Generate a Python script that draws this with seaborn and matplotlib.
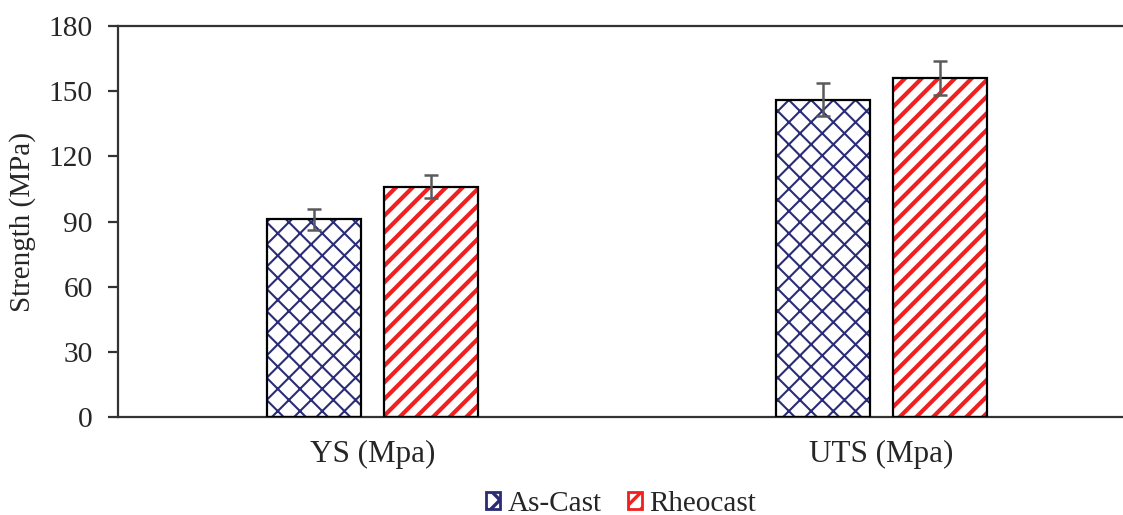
import matplotlib
matplotlib.use("Agg")
import matplotlib.pyplot as plt
import seaborn as sns
import pandas as pd
from matplotlib.patches import Rectangle, Patch

# values
categories = ["YS (Mpa)", "UTS (Mpa)"]
groups = ["As-Cast", "Rheocast"]
as_cast = [91, 146]
rheocast = [106, 156]
as_cast_err = [4.8, 7.6]
rheocast_err = [5.3, 7.8]
yticks = [0, 30, 60, 90, 120, 150, 180]

hatch_colors = {"As-Cast": "#2a2c78", "Rheocast": "#f02020"}
hatches = {"As-Cast": "xxx", "Rheocast": "////"}
hatch_lw = {"As-Cast": 0.75, "Rheocast": 1.5}
errs = {"As-Cast": as_cast_err, "Rheocast": rheocast_err}

df = pd.DataFrame({
    "cat": categories * 2,
    "group": [groups[0]] * 2 + [groups[1]] * 2,
    "value": as_cast + rheocast,
})

sns.set_style("white")
plt.rcParams["font.family"] = ["Liberation Serif", "DejaVu Serif"]
plt.rcParams["hatch.linewidth"] = 1.2

fig = plt.figure(figsize=(11.23 / 2, 5.15 / 2), dpi=200)
ax = fig.add_axes([0.105, 0.19, 1018 / 1123, 0.7595])

sns.barplot(data=df, x="cat", y="value", hue="group", order=categories,
            hue_order=groups, palette=["white", "white"], width=0.46, gap=0.2,
            errorbar=None, legend=False, linewidth=0, ax=ax)

for cont, g in zip(ax.containers, groups):
    xs, hs = [], []
    for bar in cont:
        bar.set_facecolor("white")
        bar.set_edgecolor(hatch_colors[g])
        bar.set_hatch(hatches[g])
        bar.set_linewidth(0)
        if hasattr(bar, "set_hatch_linewidth"):
            bar.set_hatch_linewidth(hatch_lw[g])
        # black outline on top of the hatched fill
        ax.add_patch(Rectangle(bar.get_xy(), bar.get_width(), bar.get_height(),
                               fill=False, edgecolor="black", linewidth=0.8, zorder=3))
        xs.append(bar.get_x() + bar.get_width() / 2)
        hs.append(bar.get_height())
    ax.errorbar(xs, hs, yerr=errs[g], fmt="none", ecolor="#5a5a5a",
                elinewidth=0.9, capsize=2.4, capthick=0.9, zorder=4)

ax.set_xlim(-0.5, 1.5)
ax.set_ylim(0, 180)
ax.set_yticks(yticks)
ax.set_xlabel("")
ax.set_ylabel("Strength (MPa)", fontsize=10.5)
ax.yaxis.set_label_coords(-0.08, 0.5)

for side in ["left", "bottom", "top"]:
    ax.spines[side].set_color("#333333")
    ax.spines[side].set_linewidth(0.8)
ax.spines["right"].set_visible(False)

ax.tick_params(axis="y", direction="out", length=3.6, width=0.8, color="#333333",
               pad=5.4, labelsize=10.6, left=True)
ax.tick_params(axis="x", length=0, pad=8.3, labelsize=11.2)

handles = [Patch(facecolor="white", edgecolor=hatch_colors[g], hatch=hatches[g], label=g)
           for g in groups]
fig.legend(handles=handles, loc="lower center", bbox_to_anchor=(0.553, -0.055), ncol=2,
           frameon=False, fontsize=10.5, handlelength=0.5, handleheight=0.5,
           handletextpad=0.25, columnspacing=0.9)

fig.savefig("out.png", dpi=200)
